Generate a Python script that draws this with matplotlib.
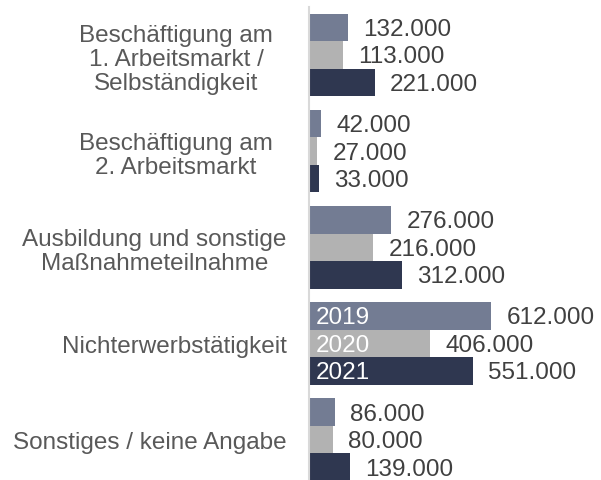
import matplotlib
matplotlib.use("Agg")
import matplotlib.pyplot as plt
import matplotlib.transforms as mtransforms
import numpy as np

plt.rcParams["font.family"] = ["Liberation Sans", "DejaVu Sans"]

categories = [
    "Beschäftigung am\n1. Arbeitsmarkt /\nSelbständigkeit",
    "Beschäftigung am\n2. Arbeitsmarkt",
    "Ausbildung und sonstige\nMaßnahmeteilnahme",
    "Nichterwerbstätigkeit",
    "Sonstiges / keine Angabe",
]
years = ["2019", "2020", "2021"]
values_2019 = [132000, 42000, 276000, 612000, 86000]
values_2020 = [113000, 27000, 216000, 406000, 80000]
values_2021 = [221000, 33000, 312000, 551000, 139000]

series = [values_2019, values_2020, values_2021]
colors = ["#737c93", "#b2b2b2", "#2f3750"]
year_label_group = 3  # years are written inside the bars of this group
label_shift = [10, 10, 0, 0, 0]  # extra left shift (pt) of some category labels

fig = plt.figure(figsize=(6.01, 4.81), dpi=100)
ax = fig.add_axes([309 / 601, 0, 1 - 309 / 601, 1 - 8 / 481])

y = np.arange(len(categories))
h = 0.286
for k, (vals, col) in enumerate(zip(series, colors)):
    pos = y + (k - 1) * h
    ax.barh(pos, vals, height=h, color=col, edgecolor="none")
    for i, v in enumerate(vals):
        ax.annotate(f"{v // 1000}.000", (v, pos[i]), xytext=(11, -1),
                    textcoords="offset points", va="center", ha="left",
                    fontsize=17.5, color="#404040")
    ax.annotate(years[k], (0, pos[year_label_group]), xytext=(5, -1),
                textcoords="offset points", va="center", ha="left",
                fontsize=17.5, color="white")

ax.set_xlim(0, 982000)
ax.set_ylim(4.42, -0.5)
ax.set_yticks(y)
ax.set_yticklabels(categories, fontsize=17.5, color="#595959",
                   multialignment="center", linespacing=1.12)
ax.tick_params(axis="y", length=0, pad=16)
for lbl, dx in zip(ax.get_yticklabels(), label_shift):
    lbl.set_transform(lbl.get_transform() +
                      mtransforms.ScaledTranslation(-dx / 72, 0, fig.dpi_scale_trans))
ax.set_xticks([])
for s in ["top", "right", "bottom"]:
    ax.spines[s].set_visible(False)
ax.spines["left"].set_color("#d9d9d9")
ax.spines["left"].set_linewidth(1.5)

fig.savefig("out.png", dpi=100, facecolor="white")
